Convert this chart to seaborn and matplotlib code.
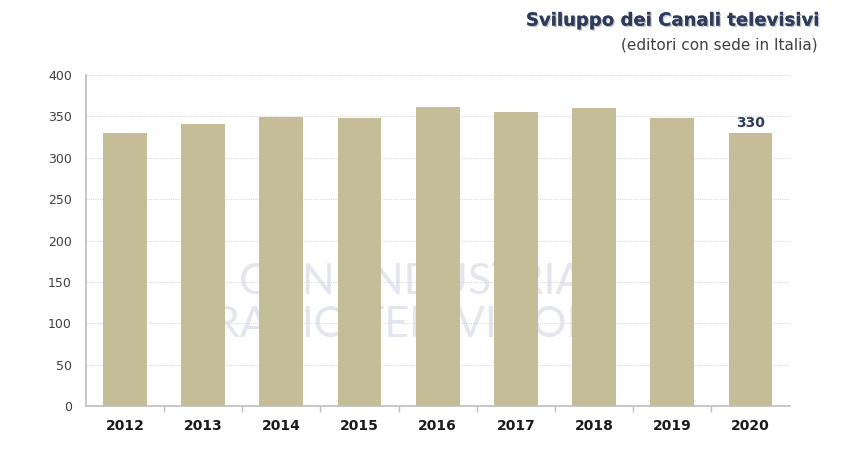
import matplotlib
matplotlib.use("Agg")
import matplotlib.pyplot as plt
import matplotlib.patheffects as pe
import seaborn as sns
import pandas as pd

years = ["2012", "2013", "2014", "2015", "2016", "2017", "2018", "2019", "2020"]
channels = [330, 341, 349, 348, 362, 356, 360, 348, 330]
yticks = [0, 50, 100, 150, 200, 250, 300, 350, 400]
title = "Sviluppo dei Canali televisivi"
subtitle = "(editori con sede in Italia)"

sns.set_theme(style="white")
plt.rcParams['font.family'] = ['DejaVu Sans']

df = pd.DataFrame({"year": years, "value": channels})

fig = plt.figure(figsize=(8.49, 4.58), dpi=100)
ax = fig.add_axes([0.101, 0.1135, 0.829, 0.7225])
ax.set_zorder(2)

# faint watermark (behind the bars)
fig.text(0.485, 0.385, "CONFINDUSTRIA", fontsize=31, color="#E3E6EE", ha="center", va="center",
         zorder=-5, family="Lato")
fig.text(0.485, 0.29, "RADIO TELEVISIONI", fontsize=31, color="#E3E6EE", ha="center", va="center",
         zorder=-5, family="Lato")

ax.set_facecolor("none")
sns.barplot(data=df, x="year", y="value", color="#C4BD97", saturation=1, width=0.56, ax=ax,
            zorder=3, linewidth=0)

ax.set_ylim(0, 400)
ax.set_yticks(yticks)
ax.set_yticklabels([str(v) for v in yticks], fontsize=9, color="#404040")
ax.set_xlabel("")
ax.set_ylabel("")
for lbl in ax.get_xticklabels():
    lbl.set_fontweight("bold")
    lbl.set_fontsize(10)
    lbl.set_color("#1a1a1a")
ax.yaxis.grid(True, color="#D9D9D9", linestyle=(0, (1, 1)), linewidth=0.8)
ax.set_axisbelow(True)
for s in ["top", "right"]:
    ax.spines[s].set_visible(False)
ax.spines["left"].set_color("#BFBFBF")
ax.spines["bottom"].set_color("#BFBFBF")
ax.tick_params(axis="y", length=4, color="#BFBFBF", pad=6)
ax.set_xticks([i + 0.5 for i in range(len(years) - 1)], minor=True)
ax.tick_params(axis="x", which="major", length=0, pad=9)
ax.tick_params(axis="x", which="minor", length=4, color="#BFBFBF", bottom=True)
ax.set_xlim(-0.5, len(years) - 0.5)

# label last bar
ax.annotate(str(channels[-1]), (len(years) - 1, channels[-1]), xytext=(0, 2), textcoords="offset points",
            ha="center", va="bottom", fontsize=10, fontweight="bold", color="#2E3B5A")

fig.text(0.963, 0.955, title, ha="right", va="center", fontsize=13, fontweight="bold", color="#2E3B5A",
         path_effects=[pe.withSimplePatchShadow(offset=(1, -1), shadow_rgbFace="#9AA0AA", alpha=0.6), pe.Normal()])
fig.text(0.963, 0.902, subtitle, ha="right", va="center", fontsize=11, color="#404040")

fig.savefig("out.png", dpi=100)
